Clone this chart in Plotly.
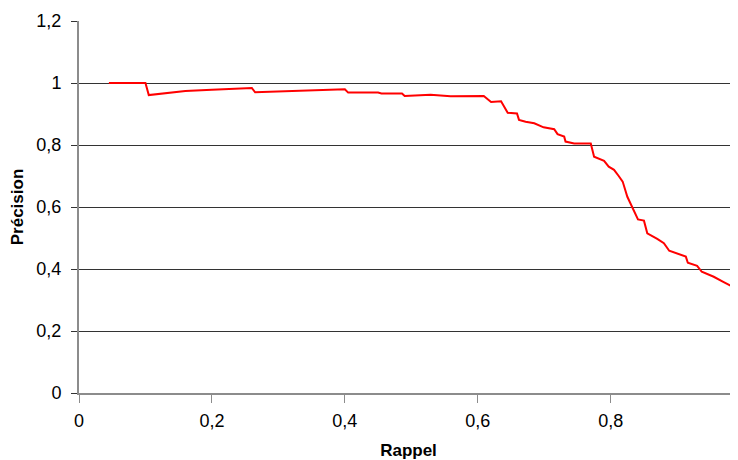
import plotly.graph_objects as go

rappel = [0.045, 0.100, 0.105, 0.130, 0.160, 0.200, 0.230, 0.260, 0.265, 0.300, 0.350, 0.400, 0.405, 0.450,
          0.455, 0.486, 0.490, 0.529, 0.559, 0.609, 0.620, 0.635, 0.645, 0.659, 0.662, 0.672, 0.685,
          0.699, 0.715, 0.720, 0.730, 0.732, 0.745, 0.770, 0.775, 0.790, 0.797, 0.805, 0.812, 0.818,
          0.825, 0.835, 0.841, 0.850, 0.855, 0.870, 0.880, 0.888, 0.900, 0.913, 0.916, 0.930, 0.937,
          0.955, 0.970, 0.987]
precision = [1.000, 1.000, 0.961, 0.968, 0.974, 0.978, 0.982, 0.984, 0.970, 0.972, 0.976, 0.980, 0.969, 0.969,
             0.966, 0.966, 0.958, 0.962, 0.957, 0.958, 0.939, 0.941, 0.904, 0.902, 0.881, 0.875, 0.870,
             0.857, 0.851, 0.835, 0.827, 0.811, 0.805, 0.805, 0.762, 0.749, 0.730, 0.720, 0.700, 0.682,
             0.633, 0.590, 0.560, 0.556, 0.515, 0.497, 0.483, 0.459, 0.451, 0.440, 0.420, 0.410, 0.391,
             0.375, 0.358, 0.338]

x_ticks = [0, 0.2, 0.4, 0.6, 0.8]
x_labels = ["0", "0,2", "0,4", "0,6", "0,8"]
y_ticks = [0, 0.2, 0.4, 0.6, 0.8, 1.0, 1.2]
y_labels = ["0", "0,2", "0,4", "0,6", "0,8", "1", "1,2"]

fig = go.Figure()
fig.add_trace(go.Scatter(x=rappel, y=precision, mode="lines",
                         line=dict(color="#FF0000", width=2), showlegend=False))

font = dict(family="Liberation Sans, Arial, sans-serif", size=18, color="#000000")
fig.update_layout(
    width=730, height=452,
    margin=dict(l=71, r=0, t=13, b=67),
    paper_bgcolor="white", plot_bgcolor="white",
    font=font,
    xaxis=dict(range=[0, 0.9915], tickvals=x_ticks, ticktext=x_labels, automargin=False,
               showgrid=False, zeroline=False, showline=True, linecolor="#8c8c8c", linewidth=2,
               ticks="outside", ticklen=8, tickcolor="#8c8c8c", tickwidth=1, ticklabelstandoff=2,
               title=dict(text="<b>Rappel</b>", font=dict(size=17), standoff=17)),
    yaxis=dict(range=[0, 1.2], tickvals=y_ticks, ticktext=y_labels, automargin=False,
               showgrid=True, gridcolor="#333333", gridwidth=1, zeroline=False,
               showline=True, linecolor="#8c8c8c", linewidth=2,
               ticks="outside", ticklen=6, tickcolor="#333333", tickwidth=1, ticklabelstandoff=6,
               title=dict(text="<b>Précision</b>", font=dict(size=17), standoff=13)),
)
fig.add_annotation(x=1.0, xref="x", y=-0.045, yref="paper", text="1", showarrow=False,
                   yanchor="top", xanchor="center", font=font)
fig.write_html("out.html")
